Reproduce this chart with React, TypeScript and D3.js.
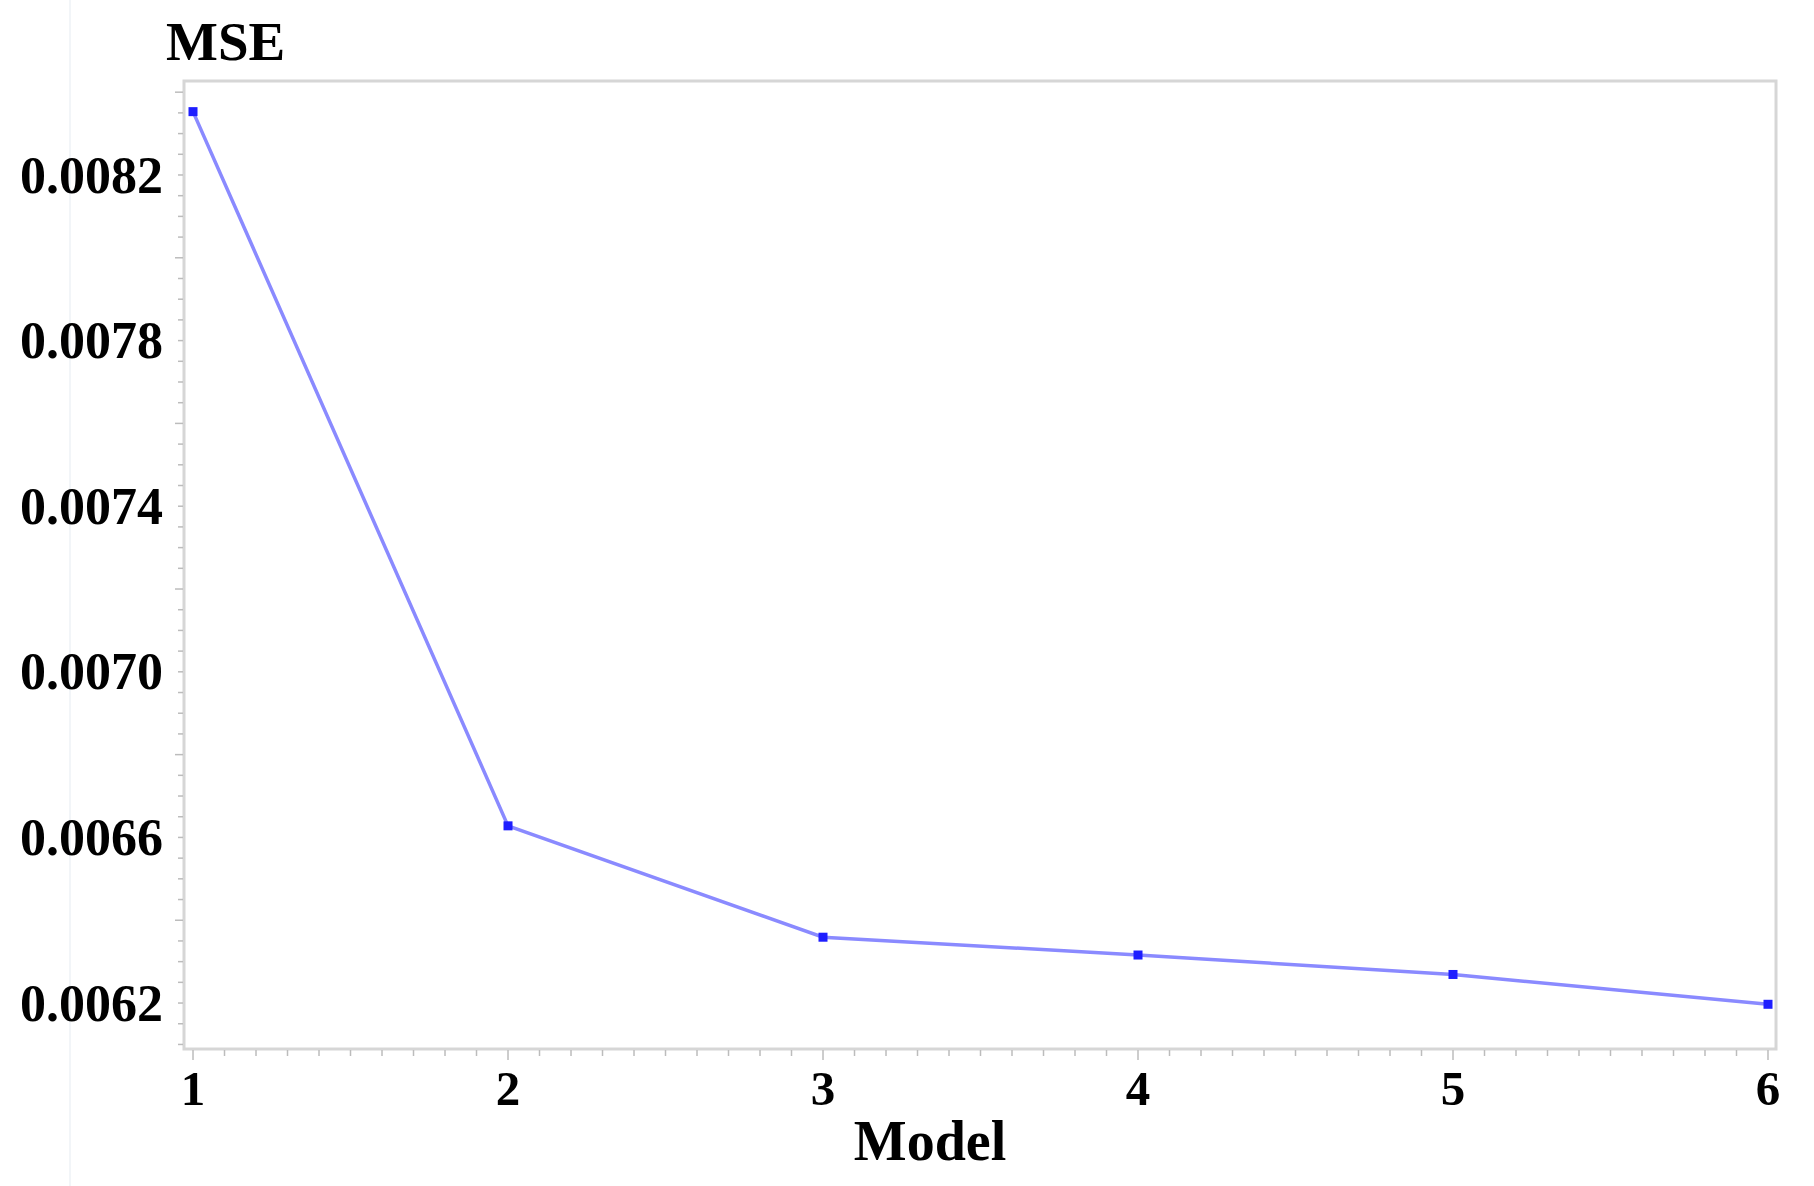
import React from "react";
import * as d3 from "d3";

const models = [1, 2, 3, 4, 5, 6];
const mse = [0.008353, 0.006628, 0.006359, 0.006316, 0.006269, 0.006197];
const yTickLabels = ["0.0062", "0.0066", "0.0070", "0.0074", "0.0078", "0.0082"];
const xTickLabels = ["1", "2", "3", "4", "5", "6"];

const W = 1814;
const H = 1186;
const frame = { left: 184, right: 1776, top: 81, bottom: 1049 };
const font = "'Liberation Serif', 'Times New Roman', serif";

export default function App() {
  const x = d3.scaleLinear().domain([0.9714, 6.0254]).range([frame.left, frame.right]);
  const y = d3.scaleLinear().domain([0.006089, 0.008427]).range([frame.bottom, frame.top]);

  const line = d3
    .line<number>()
    .x((_, i) => x(models[i]))
    .y((d) => y(d));

  const xMinor = d3.range(10, 61).map((v) => v / 10);
  const yMinor = d3.range(122, 169).map((v) => v / 20000);

  const tickColor = "#bcbcbc";

  return (
    <svg
      width={W}
      height={H}
      style={{ position: "absolute", left: 0, top: 0, background: "#fff" }}
    >
      <rect x={0} y={0} width={W} height={H} fill="#fff" />
      {/* faint artifact line */}
      <line x1={70} x2={70} y1={0} y2={H} stroke="#f2f5f8" strokeWidth={2} />

      {/* frame */}
      <rect
        x={frame.left}
        y={frame.top}
        width={frame.right - frame.left}
        height={frame.bottom - frame.top}
        fill="none"
        stroke="#d6d6d6"
        strokeWidth={3}
      />

      {/* x ticks */}
      {xMinor.map((v, i) => {
        const major = Math.abs(v - Math.round(v)) < 1e-9;
        return (
          <line
            key={"xt" + i}
            x1={x(v)}
            x2={x(v)}
            y1={frame.bottom + 1}
            y2={frame.bottom + (major ? 11 : 7)}
            stroke={tickColor}
            strokeWidth={1.5}
          />
        );
      })}
      {/* y ticks */}
      {yMinor.map((v, i) => {
        const major = Math.abs(v * 2500 - Math.round(v * 2500)) < 1e-6;
        return (
          <line
            key={"yt" + i}
            x1={frame.left - 1}
            x2={frame.left - (major ? 9 : 6)}
            y1={y(v)}
            y2={y(v)}
            stroke={tickColor}
            strokeWidth={1.5}
          />
        );
      })}

      {/* y tick labels */}
      {yTickLabels.map((t) => (
        <text
          key={t}
          x={163}
          y={y(+t)}
          dy="0.34em"
          textAnchor="end"
          fontFamily={font}
          fontWeight="bold"
          fontSize={52}
          fill="#000"
        >
          {t}
        </text>
      ))}

      {/* x tick labels */}
      {xTickLabels.map((t) => (
        <text
          key={t}
          x={x(+t)}
          y={1105}
          textAnchor="middle"
          fontFamily={font}
          fontWeight="bold"
          fontSize={49}
          fill="#000"
        >
          {t}
        </text>
      ))}

      {/* axis titles */}
      <text x={166} y={60} fontFamily={font} fontWeight="bold" fontSize={55} fill="#000">
        MSE
      </text>
      <text
        x={930}
        y={1160}
        textAnchor="middle"
        fontFamily={font}
        fontWeight="bold"
        fontSize={56}
        fill="#000"
      >
        Model
      </text>

      {/* series line */}
      <path d={line(mse) || ""} fill="none" stroke="#8a8aff" strokeWidth={3.5} />
      {mse.map((v, i) => (
        <rect
          key={"m" + i}
          x={x(models[i]) - 4.5}
          y={y(v) - 4.5}
          width={9}
          height={9}
          fill="#1e1eff"
        />
      ))}
    </svg>
  );
}
